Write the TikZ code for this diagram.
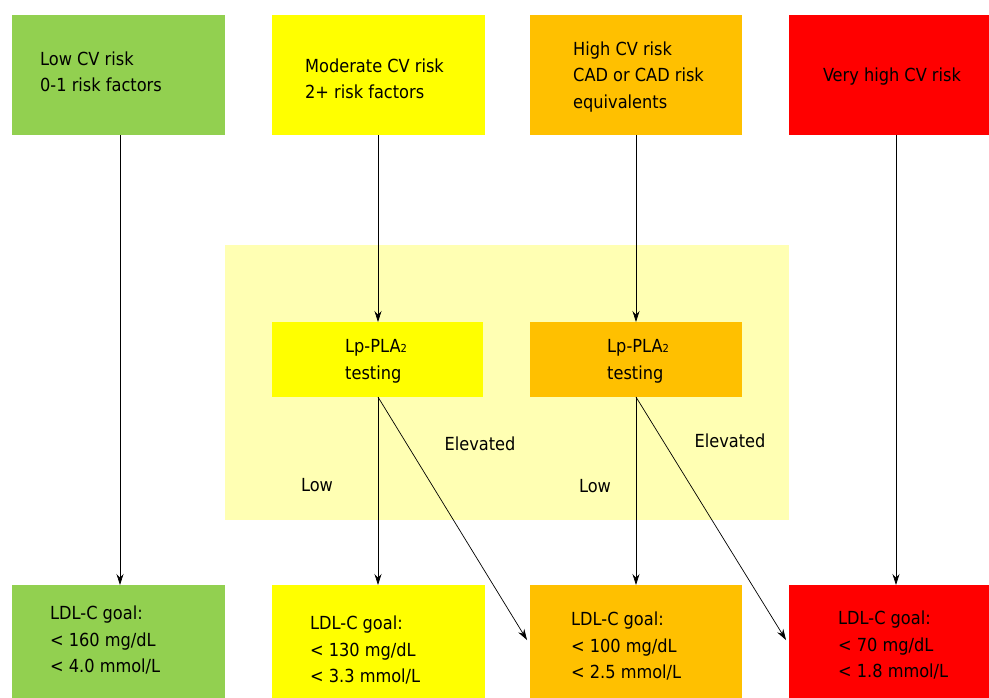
\documentclass[tikz,border=0pt]{standalone}
\usepackage{fontspec}
\setmainfont{DejaVu Sans Condensed}
\usetikzlibrary{arrows.meta}
\definecolor{cgreen}{RGB}{146,208,80}
\definecolor{cyellow}{RGB}{255,255,0}
\definecolor{corange}{RGB}{255,192,0}
\definecolor{cred}{RGB}{255,0,0}
\definecolor{cpale}{RGB}{255,255,179}
\tikzset{
  box/.style={draw=none,inner sep=0pt,anchor=north west},
  lbl/.style={inner sep=0pt,align=left,font=\fontsize{18}{26.5}\selectfont},
  arr/.style={-{Stealth[length=11pt,width=7pt]},line width=0.7pt},
}
\begin{document}
\begin{tikzpicture}[x=1pt,y=-1pt]
\useasboundingbox (0,0) rectangle (989,697);
\clip (0,0) rectangle (989,697);
% background panel
\node[box,fill=cpale,minimum width=564pt,minimum height=275pt] (panel) at (225,245) {};
% top boxes
\node[box,fill=cgreen,minimum width=213pt,minimum height=120pt] (t1) at (12,15) {};
\node[box,fill=cyellow,minimum width=213pt,minimum height=120pt] (t2) at (272,15) {};
\node[box,fill=corange,minimum width=212pt,minimum height=120pt] (t3) at (530,15) {};
\node[box,fill=cred,minimum width=210pt,minimum height=120pt] (t4) at (789,15) {};
% testing boxes
\node[box,fill=cyellow,minimum width=211pt,minimum height=75pt] (m2) at (272,322) {};
\node[box,fill=corange,minimum width=212pt,minimum height=75pt] (m3) at (530,322) {};
% bottom boxes
\node[box,fill=cgreen,minimum width=213pt,minimum height=120pt] (b1) at (12,585) {};
\node[box,fill=cyellow,minimum width=213pt,minimum height=120pt] (b2) at (272,585) {};
\node[box,fill=corange,minimum width=212pt,minimum height=120pt] (b3) at (530,585) {};
\node[box,fill=cred,minimum width=210pt,minimum height=120pt] (b4) at (789,585) {};
% texts
\node[lbl,anchor=west] (t1l) at (40,72) {Low CV risk\\0-1 risk factors};
\node[lbl,anchor=west] (t2l) at (305,79) {Moderate CV risk\\2+ risk factors};
\node[lbl,anchor=west] (t3l) at (573,77) {High CV risk\\CAD or CAD risk\\equivalents};
\node[lbl] (t4l) at (892,77) {Very high CV risk};
\node[lbl,anchor=west] (m2l) at (345,361.5) {Lp-PLA{\fontsize{11}{11}\selectfont 2}\\testing};
\node[lbl,anchor=west] (m3l) at (607,361.5) {Lp-PLA{\fontsize{11}{11}\selectfont 2}\\testing};
\node[lbl,anchor=west] (b1l) at (50,640) {LDL-C goal:\\< 160 mg/dL\\< 4.0 mmol/L};
\node[lbl,anchor=west] (b2l) at (310,650) {LDL-C goal:\\< 130 mg/dL\\< 3.3 mmol/L};
\node[lbl,anchor=west] (b3l) at (571,646) {LDL-C goal:\\< 100 mg/dL\\< 2.5 mmol/L};
\node[lbl,anchor=west] (b4l) at (838,645) {LDL-C goal:\\< 70 mg/dL\\< 1.8 mmol/L};
\node[lbl] (e2) at (480,444) {Elevated};
\node[lbl] (e3) at (730,441) {Elevated};
\node[lbl] (l2) at (317,485) {Low};
\node[lbl] (l3) at (595,486) {Low};
% connectors
\coordinate (t1s) at (120,135); \coordinate (b1e) at (120,585);
\coordinate (t2s) at (378,135); \coordinate (m2e) at (378,322);
\coordinate (m2s) at (378,397); \coordinate (b2e) at (378,585);
\coordinate (t3s) at (636,135); \coordinate (m3e) at (636,322);
\coordinate (m3s) at (636,397); \coordinate (b3e) at (636,585);
\coordinate (t4s) at (896,135); \coordinate (b4e) at (896,585);
\coordinate (d2e) at (527,640); \coordinate (d3e) at (786,640);
\draw[arr] (t1s) -- (b1e);
\draw[arr] (t2s) -- (m2e);
\draw[arr] (m2s) -- (b2e);
\draw[arr] (t3s) -- (m3e);
\draw[arr] (m3s) -- (b3e);
\draw[arr] (t4s) -- (b4e);
\draw[arr] (m2s) -- (d2e);
\draw[arr] (m3s) -- (d3e);
\end{tikzpicture}
\end{document}
